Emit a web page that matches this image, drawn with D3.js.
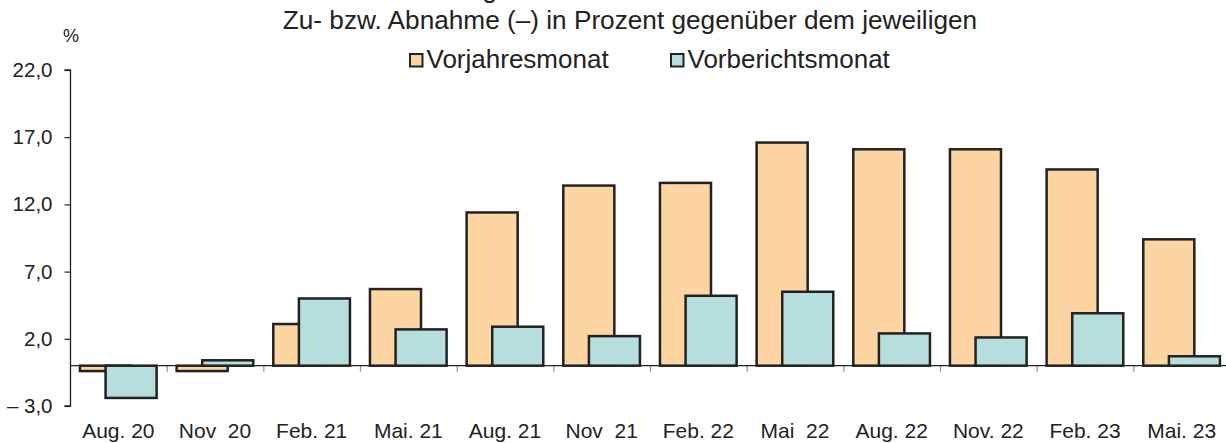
<!DOCTYPE html>
<html>
<head>
<meta charset="utf-8">
<script src="https://cdn.jsdelivr.net/npm/d3@7"></script>
<style>
  html, body { margin: 0; padding: 0; background: #fff; }
  svg { display: block; font-family: "Liberation Sans", Arial, sans-serif; }
  text { white-space: pre; fill: #222; }
</style>
</head>
<body>
<svg id="chart" width="1226" height="443"></svg>
<script>
const categories = ["Aug. 20", "Nov  20", "Feb. 21", "Mai. 21", "Aug. 21", "Nov  21",
                    "Feb. 22", "Mai  22", "Aug. 22", "Nov. 22", "Feb. 23", "Mai. 23"];
const vorjahresmonat = [-0.4, -0.4, 3.1, 5.7, 11.4, 13.4, 13.6, 16.6, 16.1, 16.1, 14.6, 9.4];
const vorberichtsmonat = [-2.4, 0.4, 5.0, 2.7, 2.9, 2.2, 5.2, 5.5, 2.4, 2.1, 3.9, 0.7];
const yTicks = [-3, 2, 7, 12, 17, 22];
const seriesNames = ["Vorjahresmonat", "Vorberichtsmonat"];
const seriesColors = ["#FDD5A3", "#B6DEDD"];
const titleText = "Entwicklung";
const subtitleText = "Zu- bzw. Abnahme (–) in Prozent gegenüber dem jeweiligen";

const svg = d3.select("#chart");

const x = d3.scaleBand().domain(categories).range([70, 1230]).paddingInner(0).paddingOuter(0);
const y = d3.scaleLinear().domain([-3, 22]).range([406, 70]);
const bw = x.bandwidth();
// sub-positions inside a band (overlapping bars)
const sub = d3.scaleOrdinal().domain([0, 1]).range([0.103, 0.368]);
const barW = bw * 0.528;

const fmt = v => v < 0 ? "– " + d3.format(".1f")(-v).replace(".", ",") : d3.format(".1f")(v).replace(".", ",");

// Title (cut off at top, as in the reference) and subtitle
svg.append("text").attr("x", 497).attr("y", -2).attr("text-anchor", "end")
  .style("font-size", "26px").text(titleText);
svg.append("text").attr("x", 630).attr("y", 29).attr("text-anchor", "middle")
  .style("font-size", "26.2px").text(subtitleText);

// % unit
svg.append("text").attr("x", 71).attr("y", 42).attr("text-anchor", "middle")
  .style("font-size", "18px").text("%");

// Legend
const legendX = [409, 670];
seriesNames.forEach((name, i) => {
  svg.append("rect").attr("x", legendX[i] + 1).attr("y", 54).attr("width", 12.5).attr("height", 12.5)
    .attr("fill", seriesColors[i]).attr("stroke", "#222").attr("stroke-width", 2);
  svg.append("text").attr("x", legendX[i] + 17.5).attr("y", 67.5)
    .style("font-size", "26px").text(name);
});

// Y axis
const yAxis = d3.axisLeft(y).tickValues(yTicks).tickSize(6).tickPadding(12).tickFormat(fmt);
const gy = svg.append("g").attr("transform", "translate(70.5,0)").call(yAxis);
gy.select(".domain").attr("stroke", "#222").attr("stroke-width", 1.3).attr("d", `M-6,${y(22)}H0V${y(-3)}H-6`);
gy.selectAll(".tick line").attr("stroke", "#222").attr("stroke-width", 1.2);
gy.selectAll(".tick text").style("font-size", "20.5px").attr("fill", "#222").style("font-family", "Liberation Sans, Arial, sans-serif");

// Category ticks below zero line
const zeroY = y(0);
svg.append("g").selectAll("line").data(categories.slice(1)).join("line")
  .attr("x1", d => x(d) + 0.5).attr("x2", d => x(d) + 0.5)
  .attr("y1", zeroY).attr("y2", zeroY + 6)
  .attr("stroke", "#999").attr("stroke-width", 1.3);

// Bars
const seriesData = [vorjahresmonat, vorberichtsmonat];
seriesData.forEach((vals, si) => {
  svg.append("g").selectAll("rect").data(categories).join("rect")
    .attr("x", (d) => x(d) + bw * sub(si))
    .attr("width", barW)
    .attr("y", (d, i) => Math.min(y(vals[i]), y(0)))
    .attr("height", (d, i) => Math.abs(y(vals[i]) - y(0)))
    .attr("fill", seriesColors[si])
    .attr("stroke", "#222")
    .attr("stroke-width", 2.5);
});

// Zero line
svg.append("line").attr("x1", 70).attr("x2", 1226).attr("y1", zeroY).attr("y2", zeroY)
  .attr("stroke", "#222").attr("stroke-width", 1.3);

// X labels
const xAxis = d3.axisBottom(x).tickSize(0).tickPadding(0);
const gx = svg.append("g").attr("transform", "translate(0,422)").call(xAxis);
gx.select(".domain").remove();
gx.selectAll(".tick text").style("font-size", "21px").attr("fill", "#222")
  .style("font-family", "Liberation Sans, Arial, sans-serif").attr("y", 16).attr("dy", 0);
</script>
</body>
</html>
